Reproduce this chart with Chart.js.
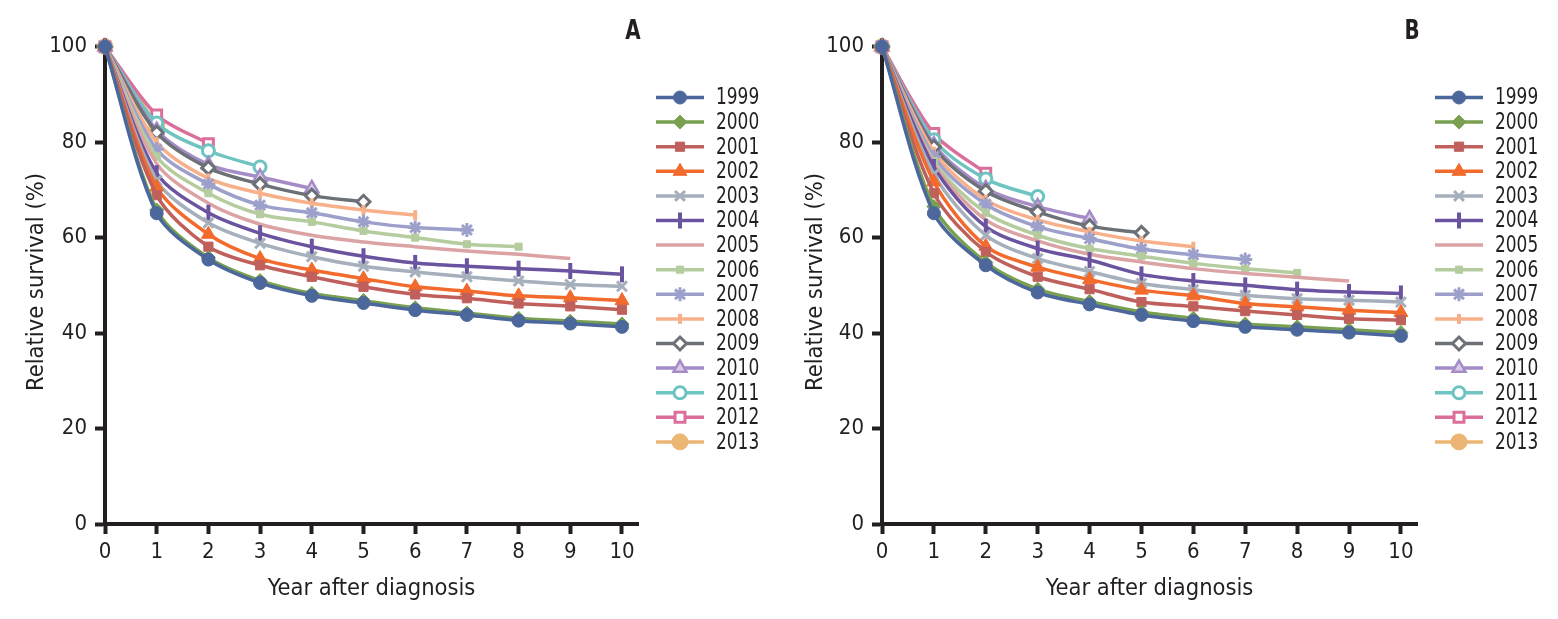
<!DOCTYPE html>
<html>
<head>
<meta charset="utf-8">
<script src="https://cdn.jsdelivr.net/npm/chart.js@4.4.1/dist/chart.umd.min.js"></script>
<style>
  body { margin: 0; background: #fff; }
  .panel { position: absolute; top: 0; width: 779px; height: 619px; }
</style>
</head>
<body>
<div class="panel" style="left:0"><canvas id="chartA"></canvas></div>
<div class="panel" style="left:779px"><canvas id="chartB"></canvas></div>
<script>
const yearsAfter = [0, 1, 2, 3, 4, 5, 6, 7, 8, 9, 10];
const yTicks = [0, 20, 40, 60, 80, 100];
const cohorts = ['1999', '2000', '2001', '2002', '2003', '2004', '2005', '2006',
                 '2007', '2008', '2009', '2010', '2011', '2012', '2013'];

// panel A
const a1999 = [100, 65.1, 55.4, 50.5, 47.8, 46.3, 44.8, 43.8, 42.6, 42.0, 41.3];
const a2000 = [100, 65.8, 55.8, 51.0, 48.3, 46.8, 45.3, 44.2, 43.1, 42.5, 41.9];
const a2001 = [100, 68.9, 58.1, 54.2, 51.8, 49.7, 48.1, 47.3, 46.2, 45.6, 44.9];
const a2002 = [100, 70.6, 60.7, 55.6, 53.2, 51.4, 49.7, 48.8, 47.8, 47.4, 46.8];
const a2003 = [100, 72.0, 63.1, 58.8, 56.0, 54.0, 52.8, 51.8, 50.9, 50.2, 49.8];
const a2004 = [100, 73.5, 65.2, 60.9, 58.1, 56.1, 54.7, 54.0, 53.5, 53.0, 52.3];
const a2005 = [100, 75.5, 67.2, 62.8, 60.5, 59.1, 58.1, 57.2, 56.5, 55.6];
const a2006 = [100, 77.0, 69.3, 64.9, 63.3, 61.4, 60.0, 58.6, 58.1];
const a2007 = [100, 78.5, 71.2, 66.8, 65.2, 63.3, 62.1, 61.6];
const a2008 = [100, 80.0, 72.4, 69.3, 67.2, 65.8, 64.7];
const a2009 = [100, 82.0, 74.6, 71.2, 68.8, 67.5];
const a2010 = [100, 82.5, 75.3, 72.7, 70.3];
const a2011 = [100, 84.0, 78.2, 74.8];
const a2012 = [100, 85.7, 79.7];
const a2013 = [100, 83.5];

// panel B
const b1999 = [100, 65.1, 54.2, 48.5, 46.0, 43.8, 42.5, 41.3, 40.7, 40.1, 39.4];
const b2000 = [100, 66.5, 54.8, 49.2, 46.6, 44.4, 43.1, 41.9, 41.3, 40.7, 40.1];
const b2001 = [100, 69.3, 57.0, 51.8, 49.2, 46.5, 45.6, 44.6, 43.8, 43.0, 42.7];
const b2002 = [100, 71.7, 58.2, 53.8, 51.2, 49.0, 47.8, 46.2, 45.5, 44.8, 44.3];
const b2003 = [100, 73.3, 60.5, 55.6, 52.9, 50.4, 49.1, 47.9, 47.2, 46.9, 46.5];
const b2004 = [100, 74.8, 62.3, 57.7, 55.3, 52.3, 50.9, 50.0, 49.1, 48.6, 48.3];
const b2005 = [100, 75.5, 63.7, 59.3, 56.5, 54.9, 53.5, 52.5, 51.7, 50.9];
const b2006 = [100, 76.0, 65.2, 60.5, 57.7, 56.1, 54.6, 53.5, 52.6];
const b2007 = [100, 77.0, 67.0, 62.3, 59.8, 57.6, 56.4, 55.4];
const b2008 = [100, 78.0, 67.9, 63.7, 61.2, 59.3, 58.1];
const b2009 = [100, 79.0, 69.7, 65.4, 62.4, 61.0];
const b2010 = [100, 79.5, 70.3, 66.5, 64.0];
const b2011 = [100, 80.5, 72.3, 68.6];
const b2012 = [100, 81.8, 73.5];
const b2013 = [100, 79.9];

const FONT = "'Liberation Sans Narrow', 'DejaVu Sans Condensed', 'Arial Narrow', sans-serif";
const INK = '#231f20';

// look of each cohort: line colour, marker shape, fill
const looks = [
  { c: '#4b679b', ps: 'circle', r: 6.5, bg: '#4b679b', bw: 1 },
  { c: '#78a050', ps: 'rectRot', r: 7, bg: '#78a050', bw: 1 },
  { c: '#c0605c', ps: 'rect', r: 6.5, bg: '#c0605c', bw: 1 },
  { c: '#f26a2c', ps: 'triangle', r: 8, bg: '#f26a2c', bw: 1 },
  { c: '#a6afbc', ps: 'crossRot', r: 7, bg: '#a6afbc', bw: 3 },
  { c: '#6a539f', ps: 'line', r: 8, bg: '#6a539f', bw: 4, rot: 90 },
  { c: '#dba3a3', ps: 'circle', r: 0, bg: '#dba3a3', bw: 1 },
  { c: '#b5cc9e', ps: 'rect', r: 5, bg: '#b5cc9e', bw: 1 },
  { c: '#9da0cb', ps: 'star', r: 7, bg: '#9da0cb', bw: 3 },
  { c: '#f7b08a', ps: 'line', r: 5, bg: '#f7b08a', bw: 4, rot: 90 },
  { c: '#6c7177', ps: 'rectRot', r: 6.5, bg: '#ffffff', bw: 3 },
  { c: '#a58cc7', ps: 'triangle', r: 7.5, bg: '#d9cce9', bw: 2.5 },
  { c: '#6ec4c1', ps: 'circle', r: 6, bg: '#ffffff', bw: 3 },
  { c: '#db6f9c', ps: 'rect', r: 7, bg: '#ffffff', bw: 3 },
  { c: '#ebb574', ps: 'circle', r: 8, bg: '#ebb574', bw: 1 }
];

function makeSets(series) {
  return series.map((vals, i) => {
    const l = looks[i];
    return {
      label: cohorts[i],
      data: vals.map((v, k) => ({ x: yearsAfter[k], y: v })),
      borderColor: l.c,
      borderWidth: 3.5,
      backgroundColor: l.c,
      pointStyle: l.ps,
      pointRadius: l.r,
      pointRotation: l.rot || 0,
      pointBackgroundColor: l.bg,
      pointBorderColor: l.c,
      pointBorderWidth: l.bw,
      tension: 0.3,
      clip: false
    };
  });
}

// narrow tall text like the original condensed face
function narrowText(ctx, text, x, y, font, squeeze, align) {
  ctx.save();
  ctx.font = font;
  ctx.textAlign = align;
  ctx.textBaseline = 'middle';
  ctx.translate(x, y);
  ctx.scale(squeeze, 1);
  ctx.fillText(text, 0, 0);
  ctx.restore();
}

const sideLegend = {
  id: 'sideLegend',
  afterDraw(chart, args, opts) {
    const ctx = chart.ctx;
    const drawPoint = Chart.helpers && Chart.helpers.drawPoint;
    ctx.save();
    chart.data.datasets.forEach((ds, i) => {
      const y = opts.top + i * opts.step;
      ctx.strokeStyle = ds.borderColor;
      ctx.lineWidth = 3.5;
      ctx.beginPath();
      ctx.moveTo(opts.x, y);
      ctx.lineTo(opts.x + 48, y);
      ctx.stroke();
      if (ds.pointRadius > 0 && drawPoint) {
        ctx.fillStyle = ds.pointBackgroundColor;
        ctx.strokeStyle = ds.pointBorderColor;
        ctx.lineWidth = ds.pointBorderWidth;
        drawPoint(ctx, { pointStyle: ds.pointStyle, rotation: ds.pointRotation,
                         radius: ds.pointRadius, borderWidth: ds.pointBorderWidth }, opts.x + 24, y);
      }
      ctx.fillStyle = INK;
      narrowText(ctx, ds.label, opts.x + 60, y + 1, '23px ' + FONT, 0.82, 'left');
    });
    ctx.fillStyle = INK;
    narrowText(ctx, opts.letter, opts.letterX, 32, 'bold 26px ' + FONT, 0.85, 'center');
    ctx.restore();
  }
};

function makeChart(id, series, letter, axisLeft) {
  return new Chart(document.getElementById(id), {
    type: 'line',
    data: { datasets: makeSets(series) },
    plugins: [sideLegend],
    options: {
      responsive: true,
      maintainAspectRatio: false,
      animation: false,
      layout: { padding: { top: 40, right: 141, bottom: 0, left: 0 } },
      plugins: {
        legend: { display: false },
        tooltip: { enabled: false },
        sideLegend: { x: 656, top: 97.5, step: 24.6, letter: letter, letterX: 633 }
      },
      scales: {
        x: {
          type: 'linear',
          min: 0,
          max: 10.31,
          afterFit: s => { s.height = 95; },
          afterBuildTicks: s => { s.ticks = yearsAfter.map(v => ({ value: v })); },
          ticks: { color: INK, font: { family: FONT, size: 22 }, padding: 5, includeBounds: false },
          grid: { drawOnChartArea: false, tickLength: 10, tickWidth: 4, tickColor: INK },
          border: { color: INK, width: 4 },
          title: { display: true, text: 'Year after diagnosis', color: INK,
                   font: { family: FONT, size: 23.5 }, padding: { top: 0, bottom: 16 } }
        },
        y: {
          min: 0,
          max: 101.4,
          afterFit: s => { s.width = axisLeft; },
          afterBuildTicks: s => { s.ticks = yTicks.map(v => ({ value: v })); },
          ticks: { color: INK, font: { family: FONT, size: 22 }, padding: 8, includeBounds: false },
          grid: { drawOnChartArea: false, tickLength: 10, tickWidth: 4, tickColor: INK },
          border: { color: INK, width: 4 },
          title: { display: true, text: 'Relative survival (%)', color: INK,
                   font: { family: FONT, size: 23.5 }, padding: { top: 23, bottom: 0 } }
        }
      }
    }
  });
}

makeChart('chartA', [a1999, a2000, a2001, a2002, a2003, a2004, a2005, a2006,
                     a2007, a2008, a2009, a2010, a2011, a2012, a2013], 'A', 105);
makeChart('chartB', [b1999, b2000, b2001, b2002, b2003, b2004, b2005, b2006,
                     b2007, b2008, b2009, b2010, b2011, b2012, b2013], 'B', 103);
</script>
</body>
</html>
